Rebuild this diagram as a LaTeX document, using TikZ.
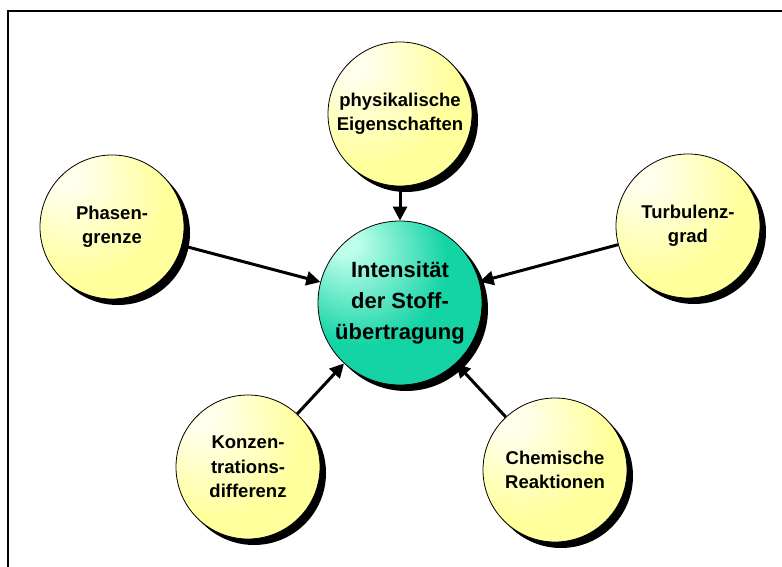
\documentclass[tikz,border=0pt]{standalone}
\usepackage{fontspec}
\setmainfont{Liberation Sans}
\usetikzlibrary{arrows.meta,shadows}
\definecolor{yelA}{RGB}{255,255,235}
\definecolor{yelB}{RGB}{255,255,155}
\definecolor{yelC}{RGB}{248,242,115}
\definecolor{tealA}{RGB}{190,255,235}
\definecolor{tealB}{RGB}{20,212,165}
\definecolor{tealC}{RGB}{0,180,135}
\pgfdeclareradialshading{yellowball}{\pgfpoint{-18bp}{20bp}}{%
  color(0bp)=(yelA); color(6bp)=(yelA); color(30bp)=(yelB); color(60bp)=(yelB); color(75bp)=(yelC)}
\pgfdeclareradialshading{tealball}{\pgfpoint{-18bp}{20bp}}{%
  color(0bp)=(tealA); color(4bp)=(tealA); color(26bp)=(tealB); color(58bp)=(tealB); color(75bp)=(tealC)}
\begin{document}
\begin{tikzpicture}[x=1pt,y=-1pt,
  outer/.style={circle, draw=black, line width=0.8pt, shading=yellowball,
    minimum size=144pt, inner sep=0pt, align=center,
    font=\fontsize{18.5}{24.5}\selectfont\bfseries,
    drop shadow={shadow xshift=6pt, shadow yshift=-6pt, fill=black, opacity=1}},
  core/.style={circle, draw=black, line width=0.8pt, shading=tealball,
    minimum size=164pt, inner sep=0pt, align=center,
    font=\fontsize{22}{31}\selectfont\bfseries,
    drop shadow={shadow xshift=6pt, shadow yshift=-6pt, fill=black, opacity=1}},
  arr/.style={line width=3pt, -{Triangle[length=14pt,width=14pt]}}]
\useasboundingbox (0,0) rectangle (782,567);
\draw[line width=2.7pt] (8,570) -- (8,11) -- (785,11);
\node[core] (c) at (400,303) {Intensität\\der Stoff-\\übertragung};
\node[outer] (p) at (400,114) {physikalische\\Eigenschaften};
\node[outer] (ph) at (112,227) {Phasen-\\grenze};
\node[outer] (t) at (688,226) {Turbulenz-\\grad};
\node[outer] (k) at (248,467) {Konzen-\\trations-\\differenz};
\node[outer] (ch) at (555,470) {Chemische\\Reaktionen};
\draw[arr] (p) -- (c);
\draw[arr] (ph) -- (c);
\draw[arr] (t) -- (c);
\draw[arr] (k) -- (c);
\draw[arr] (ch) -- (c);
\end{tikzpicture}
\end{document}
